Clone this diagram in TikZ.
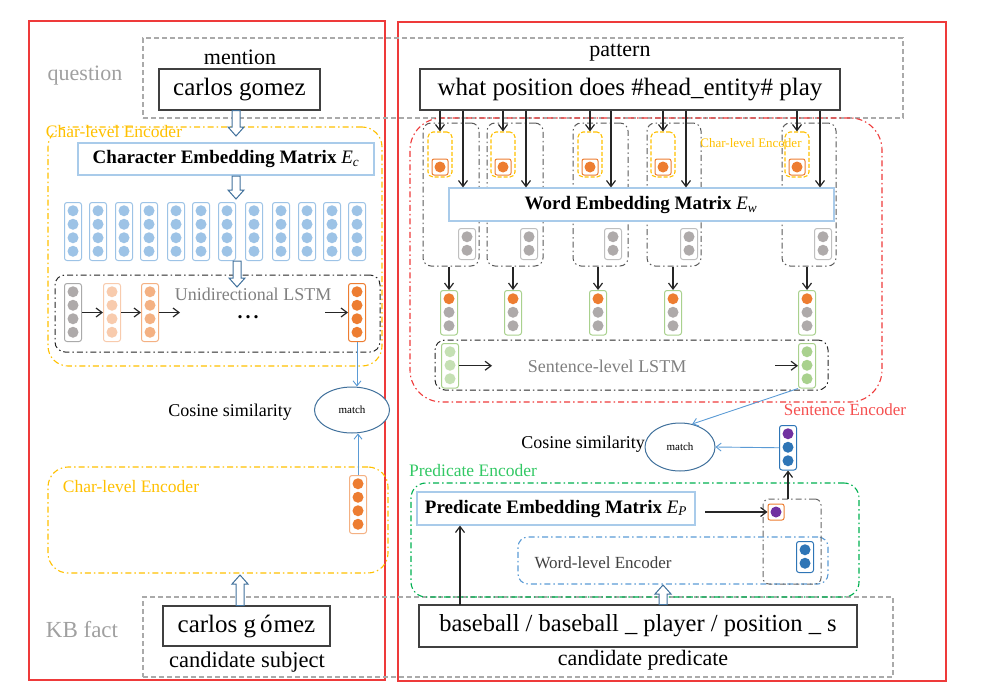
\documentclass[tikz,border=0pt]{standalone}
\usepackage{fontspec}
\setmainfont{Liberation Serif}
\usetikzlibrary{arrows.meta,fit,shapes.geometric}
\definecolor{redF}{RGB}{238,58,58}
\definecolor{grayD}{RGB}{170,170,170}
\definecolor{grayT}{RGB}{160,160,160}
\definecolor{grayL}{RGB}{128,128,128}
\definecolor{yel}{RGB}{255,192,0}
\definecolor{lb}{HTML}{9DC3E6}
\definecolor{lbB}{HTML}{A9CBEA}
\definecolor{mblue}{HTML}{5B9BD5}
\definecolor{dblue}{HTML}{41719C}
\definecolor{orangeC}{HTML}{ED7D31}
\definecolor{peach}{HTML}{F8CBAD}
\definecolor{midO}{HTML}{F4B183}
\definecolor{grayC}{HTML}{AEAAAA}
\definecolor{grayB}{HTML}{BFBFBF}
\definecolor{greenB}{HTML}{A9D18E}
\definecolor{lgreen}{HTML}{C5E0B4}
\definecolor{greenC}{HTML}{A9D18E}
\definecolor{purpleC}{HTML}{7030A0}
\definecolor{blueC}{HTML}{2E75B6}
\definecolor{greenE}{HTML}{00B050}
\definecolor{greenT}{RGB}{50,200,100}
\definecolor{redT}{RGB}{245,80,80}
\newcommand\fsz[1]{\fontsize{#1}{#1}\selectfont}
\newcommand\nncol[6]{%
  \node[colbox, draw=#5, minimum height={(#4*13.5+4)*1pt}, anchor=north] (#1) at (#2,#3) {};
  \foreach \cc [count=\ii] in {#6} {\fill[\cc] (#2,#3+2+\ii*13.5-6.75) circle (5.5pt);}
}
\newcommand\hdown[3]{\draw[hollow] (#1-4,#2) -- (#1-4,#3-9) -- (#1-8,#3-9) -- (#1,#3) -- (#1+8,#3-9) -- (#1+4,#3-9) -- (#1+4,#2) -- cycle;}
\newcommand\hup[3]{\draw[hollow] (#1-4,#2) -- (#1-4,#3+9) -- (#1-8,#3+9) -- (#1,#3) -- (#1+8,#3+9) -- (#1+4,#3+9) -- (#1+4,#2) -- cycle;}
\tikzset{
  frame/.style={draw=redF, line width=2.6pt, inner sep=0pt},
  qframe/.style={draw=grayD, line width=1.2pt, dash pattern=on 5pt off 3pt, inner sep=0pt},
  tbox/.style={draw=black!75, line width=1.1pt, inner sep=0pt, fill=white},
  ebox/.style={draw=lbB, line width=1.1pt, inner sep=0pt, fill=white},
  dd/.style={dash pattern=on 6pt off 3pt on 1.5pt off 3pt},
  yelbox/.style={draw=yel, line width=1.1pt, dd, rounded corners=20pt, inner sep=0pt},
  ybox/.style={draw=yel, line width=1.1pt, dash pattern=on 4pt off 2pt, rounded corners=5pt, inner sep=0pt},
  wbox/.style={draw=black!65, line width=1pt, dd, rounded corners=8pt, inner sep=0pt},
  lbox/.style={draw=black!85, line width=1pt, dd, rounded corners=10pt, inner sep=0pt},
  renc/.style={draw=redF, line width=1.1pt, dd, rounded corners=32pt, inner sep=0pt},
  genc/.style={draw=greenE, line width=1.1pt, dd, rounded corners=15pt, inner sep=0pt},
  bdd/.style={draw=mblue, line width=1.1pt, dd, rounded corners=10pt, inner sep=0pt},
  gdd/.style={draw=black!60, line width=1pt, dd, rounded corners=6pt, inner sep=0pt},
  colbox/.style={rectangle, rounded corners=2.5pt, minimum width=17pt, line width=1pt, inner sep=0pt, fill=white},
  sq/.style={rectangle, rounded corners=2pt, minimum width=16pt, minimum height=16pt, line width=1pt, inner sep=0pt, fill=white},
  arr/.style={-{Straight Barb[length=6pt,width=9pt]}, line width=1.2pt, draw=black!85},
  barr/.style={-{Straight Barb[length=5pt,width=8pt]}, draw=mblue, line width=0.9pt},
  hollow/.style={draw=dblue, line width=1pt, fill=white},
  mell/.style={ellipse, draw=dblue, line width=1pt, inner sep=0pt, fill=white},
  txt/.style={inner sep=0pt},
}
\begin{document}
\begin{tikzpicture}[x=1pt,y=-1pt]
\useasboundingbox (0,0) rectangle (992,696);
% frames
\node[frame, fit={(29,21)(385,680)}] (lframe) {};
\node[frame, fit={(398,22)(946,681)}] (rframe) {};
\node[qframe, fit={(143,38)(903,118)}] (qbox) {};
\node[qframe, fit={(143,597)(893,677)}] (kbbox) {};
\node[txt, text=grayT] (qlab) at (85,76) {\fsz{22}question};
\node[txt, text=grayT] (kblab) at (82,630) {\fsz{23}KB fact};
% question texts
\node[txt] (mlab) at (240,57) {\fsz{22}mention};
\node[tbox, fit={(159,69)(320,110)}] (ment) {};
\node[txt] (mentt) at (ment.center) {\fsz{25}carlos gomez};
\node[txt] (plab) at (620,53) {\fsz{22}pattern};
\node[tbox, fit={(420,69)(840,110)}] (pat) {};
\node[txt] (patt) at (pat.center) {\fsz{25}what position does \#head\_entity\# play};
% ---------------- left: char-level encoder
\node[yelbox, fit={(48,127)(382,366)}] (ce1) {};
\node[txt, text=yel] (ce1lab) at (114,132) {\fsz{17.5}Char-level Encoder};
\node[ebox, fit={(78,143)(374,175)}] (cemb) {};
\node[txt] (cembt) at (cemb.center) {\fsz{19}\bfseries Character Embedding Matrix {\mdseries\itshape E\textsubscript{c}}};
\hdown{236}{110.5}{136}
\hdown{236}{176}{199}
\foreach \bx [count=\bi] in {73,98,124,149,176,201,227,254,281,307,332,357} {
  \nncol{bcol\bi}{\bx}{202}{4}{lb}{lb,lb,lb,lb}
}
\node[lbox, fit={(55,275)(380,352)}] (ulstm) {};
\hdown{237}{261}{287}
\nncol{u1}{73}{283}{4}{grayD}{grayC,grayC,grayC,grayC}
\nncol{u2}{112}{283}{4}{peach}{peach,peach,peach,peach}
\nncol{u3}{150}{283}{4}{midO}{midO,midO,midO,midO}
\nncol{u4}{357}{283}{4}{orangeC}{orangeC,orangeC,orangeC,orangeC}
\node[txt, text=grayL] (ulab) at (253,294) {\fsz{18}Unidirectional LSTM};
\node[txt, anchor=base, text height=3pt, text depth=0pt] (dots) at (248,318) {\fsz{20}\textbf{.\hspace{3pt}.\hspace{3pt}.}};
\coordinate (ua) at (180,312);
\coordinate (ub) at (325,312);
\draw[arr] (u1.east) -- (u2.west);
\draw[arr] (u2.east) -- (u3.west);
\draw[arr] (u3.east) -- (u3.east -| ua);
\draw[arr] (ub |- u4.west) -- (u4.west);
% match left
\node[mell, minimum width=75pt, minimum height=46pt] (m1) at (352,410) {\fsz{11}match};
\node[txt] (cs1) at (230,412) {\fsz{18}Cosine similarity};
\draw[barr] (u4.south) -- (u4.south |- m1.north);
% lower char encoder
\node[yelbox, fit={(48,467)(388,573)}] (ce2) {};
\node[txt, text=yel] (ce2lab) at (131,487) {\fsz{17.5}Char-level Encoder};
\nncol{oc}{358}{475}{4}{midO}{orangeC,orangeC,orangeC,orangeC}
\draw[barr] (oc.north) -- (oc.north |- m1.south);
\node[tbox, fit={(163,606)(330,646)}] (subj) {};
\node[txt] (subjt) at (subj.center) {\fsz{25}carlos g\hspace{4pt}ó\hspace{1pt}mez};
\node[txt] (subjlab) at (247,662) {\fsz{22.5}candidate subject};
\hup{240}{605.5}{575}
% ---------------- right: sentence encoder
\node[renc, fit={(410,118)(882,402)}] (senc) {};
\foreach \wn/\xs/\gxl/\gxr in {1/440/423/479, 2/503/487/543, 3/590/573/628, 4/663/647/701, 5/797/782/836} {
  \node[wbox, fit={(\gxl,123)(\gxr,266)}] (w\wn) {};
  \node[ybox, minimum width=24pt, minimum height=45pt] (y\wn) at (\xs,154.5) {};
  \node[sq, draw=orangeC] (q\wn) at (\xs,167) {};
  \fill[orangeC] (q\wn) circle (5.5pt);
  \draw[arr] (pat.south -| y\wn) -- (y\wn.north);
}
\node[txt, text=yel] (ce3lab) at (751,143) {\fsz{13}Char-level Encoder};
\node[ebox, fit={(449,188)(834,221)}] (wemb) {};
\node[txt] (wembt) at (641,205) {\fsz{19}\bfseries Word Embedding Matrix {\mdseries\itshape E\textsubscript{w}}};
\foreach \wn/\xl/\gx/\cxx in {1/463/467/449, 2/526/529/513, 3/611/613/598, 4/686/689/673, 5/820/823/807} {
  \coordinate (lt\wn) at (\xl,188);
  \draw[arr] (pat.south -| lt\wn) -- (wemb.north -| lt\wn);
  \nncol{gg\wn}{\gx}{228}{2}{grayB}{grayC,grayC}
  \nncol{gc\wn}{\cxx}{290}{3}{greenB}{orangeC,grayC,grayC}
  \draw[arr] (gc\wn.north |- w\wn.south) -- (gc\wn.north);
}
\node[lbox, fit={(435,340)(828,390)}] (slstm) {};
\nncol{s1}{450}{343}{3}{greenB}{lgreen,lgreen,lgreen}
\nncol{s2}{807}{343}{3}{greenB}{greenC,greenC,greenC}
\coordinate (sa) at (492,367);
\coordinate (sb) at (775,367);
\draw[arr] (s1.east) -- (s1.east -| sa);
\draw[arr] (sb |- s2.west) -- (s2.west);
\node[txt, text=grayL] (sllab) at (607,366) {\fsz{18}Sentence-level LSTM};
\node[txt, text=redT] (selab) at (845,410) {\fsz{17}Sentence Encoder};
% match right
\node[mell, minimum width=70pt, minimum height=48pt] (m2) at (680,447) {\fsz{11}match};
\node[txt] (cs2) at (583,444) {\fsz{18}Cosine similarity};
\draw[barr] (s2.south west) -- (m2.62);
\nncol{se}{788}{425}{3}{blueC}{purpleC,blueC,blueC}
\draw[barr] (se.west) -- (m2.east);
% predicate encoder
\node[genc, fit={(411,483)(859,597)}] (penc) {};
\node[txt, text=greenT] (pelab) at (473,471) {\fsz{17.5}Predicate Encoder};
\node[ebox, fit={(417,492)(695,525)}] (pemb) {};
\node[txt] (pembt) at (pemb.center) {\fsz{19}\bfseries Predicate Embedding Matrix {\mdseries\itshape E\textsubscript{P}}};
\node[bdd, fit={(518,537)(828,584)}] (wenc) {};
\node[txt, text=black!75] (welab) at (603,563) {\fsz{17}Word-level Encoder};
\node[gdd, fit={(763,499)(821,584)}] (pe) {};
\nncol{bc}{805}{541}{2}{blueC}{blueC,blueC}
\node[sq, draw=orangeC] (psq) at (776,512) {};
\fill[purpleC] (psq) circle (5.5pt);
\coordinate (pa) at (705,512);
\draw[arr] (pa) -- (psq.west);
\draw[arr] (se.south |- pe.north) -- (se.south);
\node[tbox, fit={(419,605)(857,647)}] (pred) {};
\node[txt] (predt) at (pred.center) {\fsz{24.5}baseball / baseball \_ player / position \_ s};
\node[txt] (predlab) at (643,660) {\fsz{22}candidate predicate};
\coordinate (pb) at (460,605);
\draw[arr] (pb) -- (pb |- pemb.south);
\hup{663}{604.5}{585}
\end{tikzpicture}
\end{document}
